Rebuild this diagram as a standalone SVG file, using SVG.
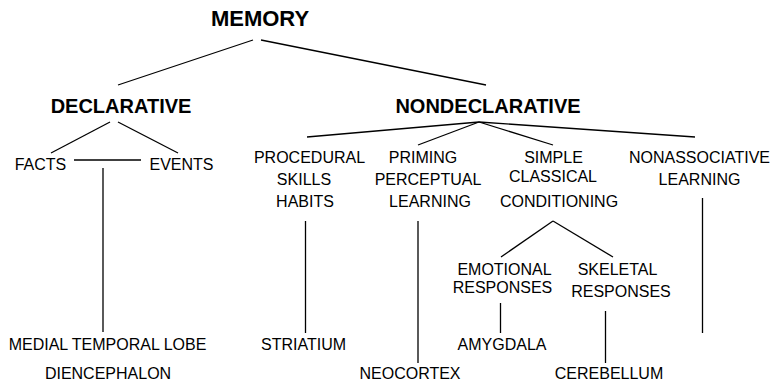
<svg xmlns="http://www.w3.org/2000/svg" width="775" height="386" viewBox="0 0 775 386">
<style>
text{font-family:"Liberation Sans",Arial,sans-serif;fill:#000;text-anchor:middle}
.b{font-weight:bold;font-size:20px}
.r{font-size:16px}
.c line{stroke:#000;stroke-width:1.3;fill:none}
</style>
<rect width="775" height="386" fill="#fff"/>
<g class="c" id="connectors">
<line x1="253" y1="40" x2="118" y2="85"/>
<line x1="261" y1="40" x2="486" y2="85"/>
<line x1="110" y1="122" x2="51" y2="153"/>
<line x1="118" y1="122" x2="178" y2="153"/>
<line x1="74" y1="160" x2="141" y2="160"/>
<line x1="103" y1="168" x2="103" y2="332"/>
<line x1="479" y1="122" x2="307" y2="137"/>
<line x1="479" y1="122" x2="418" y2="145"/>
<line x1="479" y1="122" x2="553" y2="145"/>
<line x1="479" y1="122" x2="695" y2="137"/>
<line x1="305.5" y1="221" x2="305.5" y2="333"/>
<line x1="418" y1="221" x2="418" y2="363"/>
<line x1="553" y1="221" x2="501" y2="257"/>
<line x1="553" y1="221" x2="613" y2="257"/>
<line x1="500.5" y1="303" x2="500.5" y2="333"/>
<line x1="605.5" y1="311" x2="605.5" y2="363"/>
<line x1="702.5" y1="198" x2="702.5" y2="333"/>
</g>
<g id="memory"><text class="b" x="260" y="25.5" style="font-size:22px">MEMORY</text></g>
<g id="declarative"><text class="b" x="121" y="113">DECLARATIVE</text></g>
<g id="nondeclarative"><text class="b" x="488" y="113">NONDECLARATIVE</text></g>
<g id="facts"><text class="r" x="40.5" y="170">FACTS</text></g>
<g id="events"><text class="r" x="181.5" y="170">EVENTS</text></g>
<g id="mtl"><text class="r" x="107.5" y="350">MEDIAL TEMPORAL LOBE</text><text class="r" x="108" y="379">DIENCEPHALON</text></g>
<g id="procedural"><text class="r" x="309.5" y="163">PROCEDURAL</text><text class="r" x="304" y="185">SKILLS</text><text class="r" x="305" y="207">HABITS</text></g>
<g id="striatium"><text class="r" x="303.5" y="350">STRIATIUM</text></g>
<g id="priming"><text class="r" x="423" y="163">PRIMING</text><text class="r" x="428" y="185">PERCEPTUAL</text><text class="r" x="430" y="207">LEARNING</text></g>
<g id="neocortex"><text class="r" x="410" y="379">NEOCORTEX</text></g>
<g id="simple"><text class="r" x="553.5" y="163">SIMPLE</text><text class="r" x="553" y="182">CLASSICAL</text><text class="r" x="559" y="207">CONDITIONING</text></g>
<g id="emotional"><text class="r" x="504.5" y="275">EMOTIONAL</text><text class="r" x="502.5" y="293">RESPONSES</text></g>
<g id="skeletal"><text class="r" x="617.5" y="275">SKELETAL</text><text class="r" x="621" y="297">RESPONSES</text></g>
<g id="amygdala"><text class="r" x="502" y="350">AMYGDALA</text></g>
<g id="cerebellum"><text class="r" x="609" y="379">CEREBELLUM</text></g>
<g id="nonassociative"><text class="r" x="699.5" y="163">NONASSOCIATIVE</text><text class="r" x="699.5" y="185">LEARNING</text></g>
</svg>
